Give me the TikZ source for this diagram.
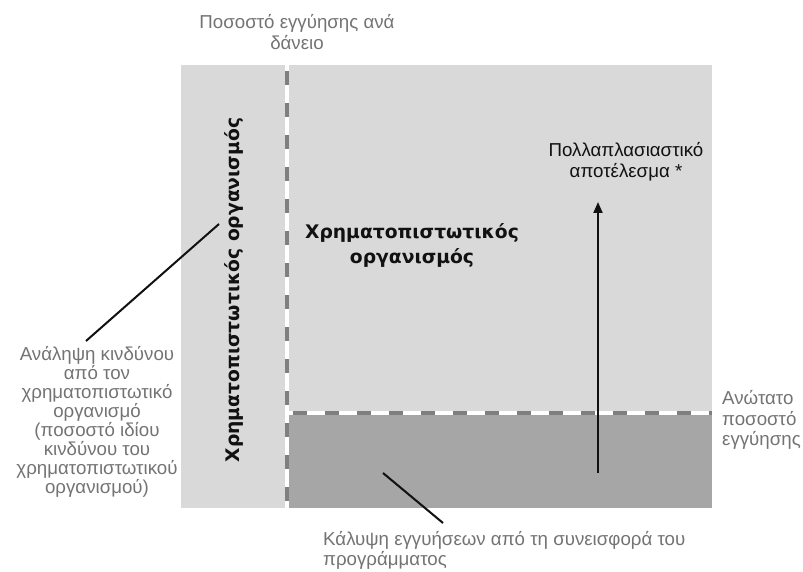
\documentclass[tikz,border=0pt]{standalone}
\usepackage{fontspec}
\setmainfont{Liberation Sans}
\newfontfamily\boldfont{DejaVu Sans}
\usetikzlibrary{arrows.meta}
\definecolor{lightbg}{HTML}{D9D9D9}
\definecolor{darkbg}{HTML}{A6A6A6}
\definecolor{dashgray}{HTML}{7F7F7F}
\definecolor{labelgray}{HTML}{737373}
\definecolor{ink}{HTML}{111111}
\tikzset{
  graylabel/.style={text=labelgray, font=\fontsize{18.7}{20.5}\selectfont, inner sep=0pt},
  blacklabel/.style={text=ink, font=\fontsize{18.7}{20.5}\selectfont, inner sep=0pt, align=center},
  boldlabel/.style={text=ink, font=\boldfont\bfseries\fontsize{18.7}{25}\selectfont, inner sep=0pt},
  whiteline/.style={draw=white, line width=3.5pt},
  dashline/.style={draw=dashgray, line width=3.5pt, dash pattern=on 14pt off 18pt},
  pointer/.style={draw=ink, line width=2pt}
}
\begin{document}
\begin{tikzpicture}[x=1pt,y=-1pt]
\useasboundingbox (0,0) rectangle (803,572);
% areas
\fill[lightbg] (181,65) rectangle (712,508);
\fill[darkbg] (289,413) rectangle (712,508);
% dashed boundaries
\coordinate (vtop) at (287,65);
\coordinate (vbot) at (287,508);
\coordinate (hleft) at (289,413);
\coordinate (hright) at (712,413);
\draw[whiteline] (vtop) -- (vbot);
\draw[dashline, dash phase=-6pt] (vtop) -- (vbot);
\draw[whiteline] (hleft) -- (hright);
\draw[dashline, dash phase=-4pt] (hleft) -- (hright);
% texts
\node[graylabel, align=center] (top) at (297,32) {Ποσοστό εγγύησης ανά\\δάνειο};
\node[graylabel, align=center, font=\fontsize{18.7}{19}\selectfont] (left) at (97,422) {Ανάληψη κινδύνου\\από τον\\χρηματοπιστωτικό\\οργανισμό\\(ποσοστό ιδίου\\κινδύνου του\\χρηματοπιστωτικού\\οργανισμού)};
\node[graylabel, align=left, anchor=west] (maxg) at (722,420) {Ανώτατο\\ποσοστό\\εγγύησης};
\node[graylabel, align=left, anchor=north west] (cover) at (323,531) {Κάλυψη εγγυήσεων από τη συνεισφορά του\\προγράμματος};
\node[blacklabel] (mult) at (626,162) {Πολλαπλασιαστικό\\αποτέλεσμα *};
\node[boldlabel, align=center] (inst) at (412,245) {Χρηματοπιστωτικός\\οργανισμός};
\node[boldlabel, rotate=90] (instv) at (234,290) {Χρηματοπιστωτικός οργανισμός};
% connectors
\coordinate (lA) at (86,341);
\coordinate (lB) at (219,224);
\draw[pointer] (lA) -- (lB);
\coordinate (cA) at (383,473);
\coordinate (cB) at (443,523);
\draw[pointer] (cA) -- (cB);
\coordinate (aA) at (598,473);
\coordinate (aB) at (598,202);
\draw[pointer, -{Triangle[length=11pt,width=9pt]}] (aA) -- (aB);
\end{tikzpicture}
\end{document}
